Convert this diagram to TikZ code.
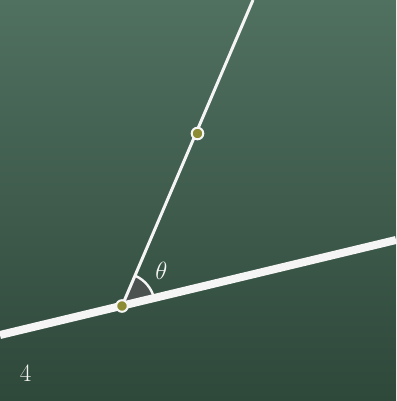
\documentclass[tikz,border=0pt]{standalone}
\usepackage{xcolor}
\usepackage{tikz}
\usetikzlibrary{calc}
\definecolor{BoardTop}{RGB}{80,112,96}
\definecolor{BoardBot}{RGB}{46,72,58}
\definecolor{DotFill}{RGB}{140,140,52}
\definecolor{AngFill}{RGB}{76,82,80}
\definecolor{Chalk}{RGB}{245,245,245}

\begin{document}
\begin{tikzpicture}[
  x=1pt, y=1pt,
  line cap=round,
  line join=round,
  every node/.style={font=\fontsize{25}{29}\selectfont, text=Chalk}
]
  % chalkboard
  \useasboundingbox (0,0) rectangle (396,401);
  \shade[top color=BoardTop, bottom color=BoardBot] (0,0) rectangle (396,401);

  % lines: thick base line and thin ray through two points
  \coordinate (l) at (0,66);
  \coordinate (r) at (396,161);
  \coordinate (p) at (122,95);
  \coordinate (q) at (197.5,267.5);
  \coordinate (t) at (253,401);

  % angle theta between the two lines
  \fill[AngFill] (p) -- ++(13.5:33) arc[start angle=13.5, end angle=66.8, radius=33] -- cycle;
  \draw[Chalk, line width=2.4pt, line cap=butt] ($(p)+(13.5:33)$) arc[start angle=13.5, end angle=66.8, radius=33];

  \draw[Chalk, line width=3pt, line cap=butt] (p) -- (t);
  \draw[Chalk, line width=8pt, line cap=butt] (l) -- (r);

  \foreach \pt in {p,q}{\filldraw[fill=DotFill, draw=Chalk, line width=2pt] (\pt) circle (5.8);}

  \node (theta) at (161.5,130) {$\theta$};
  \node (num) at (25.5,28) {4};
\end{tikzpicture}
\end{document}
